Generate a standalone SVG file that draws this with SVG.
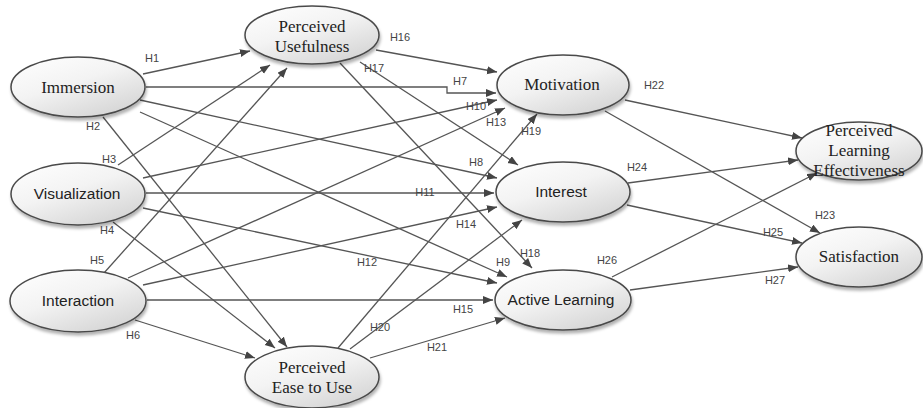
<svg xmlns="http://www.w3.org/2000/svg" width="923" height="408" viewBox="0 0 923 408">
<style>
.node ellipse{fill:url(#g);stroke:#4a4a4a;stroke-width:1.5;filter:url(#sh)}
.serif{font-family:"Liberation Serif","Times New Roman",serif;font-size:17px;fill:#222;text-anchor:middle;dominant-baseline:central}
.sans{font-family:"Liberation Sans",Arial,sans-serif;font-size:15.5px;fill:#222;text-anchor:middle;dominant-baseline:central}
.edges path{fill:none;stroke:#555;stroke-width:1.3;marker-end:url(#arr)}
.lbl{font-family:"Liberation Sans",Arial,sans-serif;font-size:11px;fill:#444;text-anchor:middle;dominant-baseline:central}
</style>
<defs>
<linearGradient id="g" x1="0" y1="0" x2="0.7" y2="1">
<stop offset="0" stop-color="#ffffff"/>
<stop offset="0.5" stop-color="#f3f3f3"/>
<stop offset="1" stop-color="#d6d6d6"/>
</linearGradient>
<filter id="sh" x="-10%" y="-10%" width="125%" height="135%">
<feDropShadow dx="1" dy="3" stdDeviation="1.8" flood-color="#000" flood-opacity="0.3"/>
</filter>
<marker id="arr" markerUnits="userSpaceOnUse" markerWidth="11" markerHeight="9" refX="10" refY="4" orient="auto">
<path d="M0,0 L10,4 L0,8 z" fill="#444"/>
</marker>
</defs>

<g class="edges" id="connectors">
<path d="M143,74 L250,51"/>
<path d="M103,117 L287,347"/>
<path d="M118,165 L270,65"/>
<path d="M113,222 L275,348"/>
<path d="M104,273 L287,68"/>
<path d="M135,320 L255,358"/>
<path d="M146,87 H447 V93 H496"/>
<path d="M140,100 L497,178"/>
<path d="M140,112 L507,277"/>
<path d="M143,178 L497,100"/>
<path d="M146,193 H494"/>
<path d="M143,208 L497,283"/>
<path d="M128,278 L505,108"/>
<path d="M143,285 L497,207"/>
<path d="M147,300 H493"/>
<path d="M376,50 L497,72"/>
<path d="M360,62 L518,165"/>
<path d="M340,63 L532,268"/>
<path d="M338,348 L537,114"/>
<path d="M350,349 L522,220"/>
<path d="M370,358 L505,318"/>
<path d="M625,100 L802,138"/>
<path d="M605,111 L820,233"/>
<path d="M628,183 L798,160"/>
<path d="M627,205 L802,243"/>
<path d="M612,277 L817,173"/>
<path d="M630,290 L798,267"/>
</g>

<g id="labels">
<text class="lbl" x="152" y="58">H1</text>
<text class="lbl" x="93" y="126">H2</text>
<text class="lbl" x="109" y="159">H3</text>
<text class="lbl" x="107" y="230">H4</text>
<text class="lbl" x="97" y="260">H5</text>
<text class="lbl" x="133" y="335">H6</text>
<text class="lbl" x="460" y="81">H7</text>
<text class="lbl" x="476" y="162">H8</text>
<text class="lbl" x="503" y="262">H9</text>
<text class="lbl" x="476" y="106">H10</text>
<text class="lbl" x="425" y="192">H11</text>
<text class="lbl" x="367" y="262">H12</text>
<text class="lbl" x="496" y="122">H13</text>
<text class="lbl" x="466" y="224">H14</text>
<text class="lbl" x="463" y="309">H15</text>
<text class="lbl" x="400" y="37">H16</text>
<text class="lbl" x="374" y="68">H17</text>
<text class="lbl" x="530" y="253">H18</text>
<text class="lbl" x="531" y="131">H19</text>
<text class="lbl" x="380" y="327">H20</text>
<text class="lbl" x="437" y="347">H21</text>
<text class="lbl" x="654" y="85">H22</text>
<text class="lbl" x="825" y="215">H23</text>
<text class="lbl" x="637" y="167">H24</text>
<text class="lbl" x="773" y="232">H25</text>
<text class="lbl" x="607" y="260">H26</text>
<text class="lbl" x="775" y="280">H27</text>
</g>

<g class="node" id="immersion"><ellipse cx="78" cy="87" rx="67" ry="30"/><text class="serif" x="78" y="87">Immersion</text></g>
<g class="node" id="usefulness"><ellipse cx="312" cy="35" rx="67" ry="29"/><text class="serif" x="312" y="26">Perceived</text><text class="serif" x="312" y="46">Usefulness</text></g>
<g class="node" id="motivation"><ellipse cx="563" cy="85" rx="66" ry="30"/><text class="serif" x="562" y="84">Motivation</text></g>
<g class="node" id="effectiveness"><ellipse cx="859" cy="151" rx="63" ry="29"/><text class="serif" x="859" y="130">Perceived</text><text class="serif" x="859" y="150">Learning</text><text class="serif" x="859" y="170">Effectiveness</text></g>
<g class="node" id="visualization"><ellipse cx="78" cy="194" rx="67" ry="31"/><text class="sans" x="77" y="193">Visualization</text></g>
<g class="node" id="interest"><ellipse cx="563" cy="192" rx="67" ry="30"/><text class="sans" x="561" y="191">Interest</text></g>
<g class="node" id="satisfaction"><ellipse cx="859" cy="257" rx="63" ry="30"/><text class="serif" x="859" y="256">Satisfaction</text></g>
<g class="node" id="interaction"><ellipse cx="78" cy="301" rx="68" ry="31"/><text class="sans" x="78" y="300">Interaction</text></g>
<g class="node" id="activelearning"><ellipse cx="563" cy="300" rx="68" ry="30"/><text class="sans" x="561" y="299">Active Learning</text></g>
<g class="node" id="easeofuse"><ellipse cx="312" cy="377" rx="67" ry="31"/><text class="serif" x="312" y="367">Perceived</text><text class="serif" x="312" y="387">Ease to Use</text></g>
</svg>
